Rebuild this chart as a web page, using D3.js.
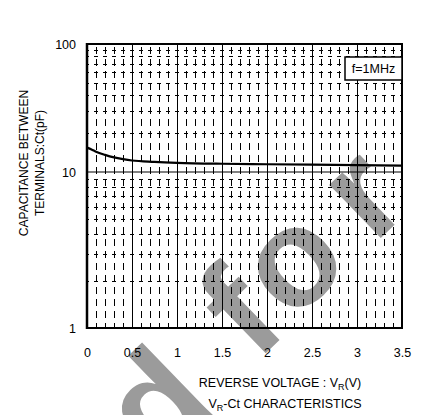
<!DOCTYPE html>
<html><head><meta charset="utf-8">
<script src="https://cdn.jsdelivr.net/npm/d3@7"></script>
<style>body{margin:0;background:#fff;} svg{display:block;font-family:"Liberation Sans",Arial,sans-serif;}</style>
</head><body>
<svg id="c" width="423" height="415"></svg>
<script>
const voltage = [0, 0.05, 0.1, 0.2, 0.3, 0.4, 0.5, 0.75, 1.0, 1.5, 2.0, 2.5, 3.0, 3.5];
const capacitance = [15.5, 15.0, 14.4, 13.6, 13.0, 12.6, 12.3, 12.0, 11.8, 11.6, 11.5, 11.4, 11.3, 11.2];
const xTicks = [0, 0.5, 1, 1.5, 2, 2.5, 3, 3.5];
const xTickLabels = ["0", "0.5", "1", "1.5", "2", "2.5", "3", "3.5"];
const yTicks = [1, 10, 100];
const yTickLabels = ["1", "10", "100"];
const legendText = "f=1MHz";
const yTitle = ["CAPACITANCE BETWEEN", "TERMINALS:Ct(pF)"];
const watermarkPieces = ["d", "for"];

const svg = d3.select("#c");
const L = 87, R = 402, T = 44, B = 328;
const x = d3.scaleLinear().domain([0, 3.5]).range([L, R]);
const y = d3.scaleLog().domain([1, 10, 100]).range([B, 172, T]);

// watermark (under the grid)
const FS = 140;
const wmStyle = s => s.attr("font-size", FS).attr("font-weight", "bold").attr("fill", "#9b9b9b");
svg.append("text").attr("transform", "translate(158,468) rotate(-44)").call(wmStyle).text(watermarkPieces[0]);
svg.append("text").attr("transform", "translate(242,365) rotate(-44)").call(wmStyle)
  .attr("letter-spacing", 18).attr("dx", "12 -12 10").attr("dy", "8 -3 0").text(watermarkPieces[1]);

const g = svg.append("g");
// minor verticals
const minorX = d3.range(1, 35).map(i => i / 10).filter(v => Math.abs(v * 2 - Math.round(v * 2)) > 1e-6);
g.selectAll(".vx").data(minorX).join("line")
  .attr("x1", d => Math.round(x(d)) + 0.5).attr("x2", d => Math.round(x(d)) + 0.5).attr("y1", T).attr("y2", B)
  .attr("stroke", "#000").attr("stroke-width", 1).attr("stroke-dasharray", "7,5").attr("stroke-dashoffset", -3);
// minor horizontals
const minorY = [];
[1, 10].forEach(dec => { for (let k = 2; k <= 9; k++) minorY.push(dec * k); });
g.selectAll(".hy").data(minorY).join("line")
  .attr("x1", L).attr("x2", R).attr("y1", d => Math.round(y(d)) + 0.5).attr("y2", d => Math.round(y(d)) + 0.5)
  .attr("stroke", "#000").attr("stroke-width", 1).attr("stroke-dasharray", "4,5").attr("stroke-dashoffset", 2);
// major verticals
g.selectAll(".mx").data(xTicks.slice(1, -1)).join("line")
  .attr("x1", d => Math.round(x(d)) + 0.5).attr("x2", d => Math.round(x(d)) + 0.5).attr("y1", T).attr("y2", B)
  .attr("stroke", "#000").attr("stroke-width", 1);
// major horizontal at 10
g.append("line").attr("x1", L).attr("x2", R).attr("y1", y(10)).attr("y2", y(10))
  .attr("stroke", "#000").attr("stroke-width", 1.2);

// frame
svg.append("rect").attr("x", L).attr("y", T).attr("width", R - L).attr("height", B - T)
  .attr("fill", "none").attr("stroke", "#000").attr("stroke-width", 2);
svg.append("line").attr("x1", L).attr("x2", L).attr("y1", T - 1).attr("y2", B + 1)
  .attr("stroke", "#000").attr("stroke-width", 2.5);

// curve
const line = d3.line().x((d, i) => x(voltage[i])).y(d => y(d)).curve(d3.curveMonotoneX);
svg.append("path").attr("d", line(capacitance)).attr("fill", "none")
  .attr("stroke", "#000").attr("stroke-width", 2.2);

// axes
const xa = svg.append("g").attr("transform", `translate(0,${B + 17})`)
  .call(d3.axisBottom(x).tickValues(xTicks).tickSize(0).tickFormat((d, i) => xTickLabels[i]));
xa.select(".domain").remove();
xa.selectAll("text").attr("font-size", 12.5).attr("font-family", "Liberation Sans, Arial, sans-serif").attr("fill", "#000");

const ya = svg.append("g").attr("transform", `translate(${L - 8},0)`)
  .call(d3.axisLeft(y).tickValues(yTicks).tickSize(0).tickFormat((d, i) => yTickLabels[i]));
ya.select(".domain").remove();
ya.selectAll("text").attr("font-size", 12.5).attr("font-family", "Liberation Sans, Arial, sans-serif").attr("fill", "#000");

// legend
svg.append("rect").attr("x", 345).attr("y", 57).attr("width", 57).attr("height", 23)
  .attr("fill", "#fff").attr("stroke", "#000").attr("stroke-width", 1.5);
svg.append("text").attr("x", 373.5).attr("y", 73).attr("text-anchor", "middle")
  .attr("font-size", 12.5).text(legendText);

// y title
yTitle.forEach((t, i) => {
  svg.append("text").attr("transform", `translate(${28 + i * 16},163) rotate(-90)`)
    .attr("text-anchor", "middle").attr("font-size", 12).text(t);
});

// x titles
const xt = svg.append("text").attr("x", 280).attr("y", 387).attr("text-anchor", "middle").attr("font-size", 12.5);
xt.append("tspan").text("REVERSE VOLTAGE : V");
xt.append("tspan").attr("font-size", 9).attr("dy", 3).text("R");
xt.append("tspan").attr("dy", -3).text("(V)");
const xt2 = svg.append("text").attr("x", 285).attr("y", 408).attr("text-anchor", "middle").attr("font-size", 12.5);
xt2.append("tspan").text("V");
xt2.append("tspan").attr("font-size", 9).attr("dy", 3).text("R");
xt2.append("tspan").attr("dy", -3).text("-Ct CHARACTERISTICS");
</script>
</body></html>
